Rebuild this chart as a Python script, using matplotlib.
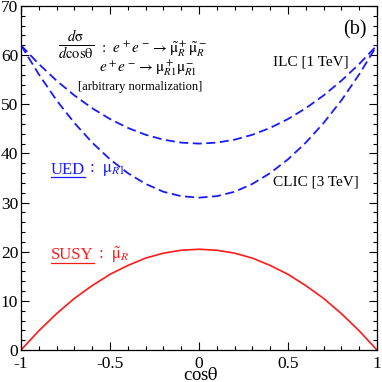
import matplotlib
matplotlib.use("Agg")
import matplotlib.pyplot as plt
from matplotlib.ticker import MultipleLocator
from matplotlib.lines import Line2D

plt.rcParams['font.family'] = ['Liberation Serif', 'DejaVu Serif']
plt.rcParams['mathtext.fontset'] = 'stix'

cos_theta = [-1.0, -0.9, -0.8, -0.7, -0.6, -0.5, -0.4, -0.3, -0.2, -0.1, 0.0,
             0.1, 0.2, 0.3, 0.4, 0.5, 0.6, 0.7, 0.8, 0.9, 1.0]
ued_ilc = [62.0, 58.2, 54.8, 51.8, 49.2, 47.0, 45.2, 43.8, 42.8, 42.2, 42.0,
           42.2, 42.8, 43.8, 45.2, 47.0, 49.2, 51.8, 54.8, 58.2, 62.0]
ued_clic = [62.0, 56.1, 50.8, 46.2, 42.2, 38.8, 36.0, 33.8, 32.2, 31.3, 31.0,
            31.3, 32.2, 33.8, 36.0, 38.8, 42.2, 46.2, 50.8, 56.1, 62.0]
susy = [0.0, 3.9, 7.4, 10.5, 13.1, 15.4, 17.2, 18.7, 19.7, 20.3, 20.5,
        20.3, 19.7, 18.7, 17.2, 15.4, 13.1, 10.5, 7.4, 3.9, 0.0]
xticks = [-1, -0.5, 0, 0.5, 1]
xticklabels = ['-1', '-0.5', '0', '0.5', '1']
yticks = [0, 10, 20, 30, 40, 50, 60, 70]

BLUE = '#1a1aff'
RED = '#ff1a1a'

fig = plt.figure(figsize=(3.82, 3.82), dpi=100)
ax = fig.add_axes([21/382, 32/382, 356/382, 344/382])

ax.plot(cos_theta, ued_ilc, color=BLUE, lw=1.3, ls=(0, (5, 2.5)))
ax.plot(cos_theta, ued_clic, color=BLUE, lw=1.3, ls=(0, (5, 2.5)))
ax.plot(cos_theta, susy, color=RED, lw=1.2)

ax.set_xlim(-1, 1)
ax.set_ylim(0, 70)
ax.set_xticks(xticks)
ax.set_xticklabels(xticklabels)
ax.set_yticks(yticks)
ax.xaxis.set_minor_locator(MultipleLocator(0.1))
ax.yaxis.set_minor_locator(MultipleLocator(2))
ax.tick_params(which='both', direction='in', top=True, right=True, labelsize=12.5)
ax.tick_params(axis='x', pad=4)
ax.tick_params(axis='y', pad=2)
ax.tick_params(which='major', length=6, width=0.8)
ax.tick_params(which='minor', length=3, width=0.8)
for s in ax.spines.values():
    s.set_linewidth(0.9)

def px(x, y):
    return x / 382, 1 - y / 382

fig.text(*px(201, 375), r'cos$\mathrm{\theta}$', fontsize=13.5, ha='center', va='center')

fig.text(*px(76, 45), r'$\frac{d\mathrm{\sigma}}{d\mathrm{cos\theta}}$', fontsize=15,
         ha='center', va='center')
fig.text(*px(101, 49), r':  $e^+e^- \rightarrow \tilde{\mathrm{\mu}}_R^+\tilde{\mathrm{\mu}}_R^-$',
         fontsize=11, ha='left', va='center')
fig.text(*px(197, 68), r'$e^+e^- \rightarrow \mathrm{\mu}_{R1}^+\mathrm{\mu}_{R1}^-$',
         fontsize=11, ha='right', va='center')
fig.text(*px(140, 87), '[arbitrary normalization]', fontsize=9, ha='center', va='center')
fig.text(*px(367, 30), '(b)', fontsize=14.5, ha='right', va='center')
fig.text(*px(273, 62), 'ILC [1 TeV]', fontsize=11, ha='left', va='center')
fig.text(*px(273, 182), 'CLIC [3 TeV]', fontsize=11, ha='left', va='center')

ued = fig.text(*px(51, 170), 'UED', fontsize=12, ha='left', va='center', color=BLUE)
ued2 = fig.text(*px(82, 170), r' :  $\mathrm{\mu}_{R1}$', fontsize=12, ha='left', va='center', color=BLUE)
susy_t = fig.text(*px(51, 255), 'SUSY', fontsize=12, ha='left', va='center', color=RED)
susy2 = fig.text(*px(90, 255), r' :  $\tilde{\mathrm{\mu}}_R$', fontsize=12, ha='left', va='center', color=RED)

fig.canvas.draw()
r = fig.canvas.get_renderer()
for t, t2, c in [(ued, ued2, BLUE), (susy_t, susy2, RED)]:
    bb = t.get_window_extent(r)
    t2.set_x(bb.x1 / fig.bbox.width)
    y = (bb.y0 + 0.5) / fig.bbox.height
    fig.add_artist(Line2D([bb.x0 / fig.bbox.width, bb.x1 / fig.bbox.width], [y, y],
                          color=c, lw=0.9, transform=fig.transFigure))

fig.savefig('out.png', dpi=100)
